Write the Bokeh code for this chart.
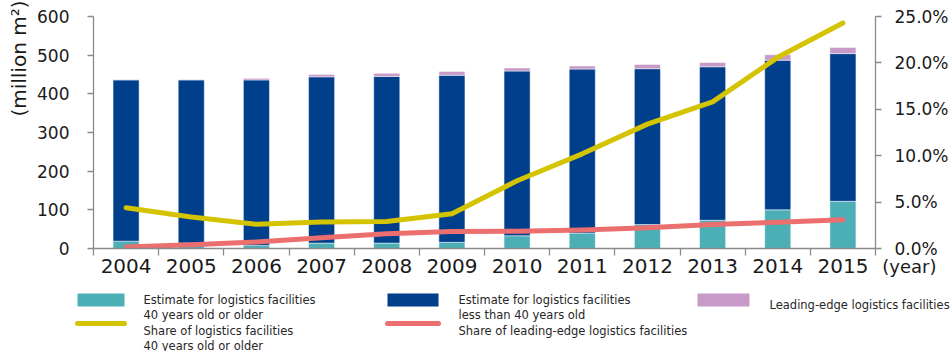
import numpy as np
from bokeh.plotting import figure
from bokeh.models import ColumnDataSource, Range1d, LinearAxis, FixedTicker, PrintfTickFormatter, Title
from bokeh.layouts import column
from bokeh.embed import file_html
from bokeh.resources import INLINE
from bokeh.core.properties import value

# ---------------- data ----------------
years = ["2004", "2005", "2006", "2007", "2008", "2009", "2010", "2011", "2012", "2013", "2014", "2015"]
old40 = [19, 14, 8, 14, 14, 16, 33, 40, 62, 73, 100, 122]          # million m2, 40 years or older
under40 = [417, 422, 428, 430, 431, 432, 426, 424, 403, 397, 387, 382]  # million m2, less than 40 years
leading = [1, 1, 4, 6, 8, 10, 8, 8, 11, 11, 14, 16]                 # million m2, leading-edge
share_old40 = [4.4, 3.4, 2.6, 2.85, 2.9, 3.75, 7.3, 10.2, 13.4, 15.8, 20.6, 24.3]   # %
share_leading = [0.15, 0.4, 0.7, 1.15, 1.58, 1.83, 1.87, 2.0, 2.23, 2.59, 2.84, 3.09]  # %
left_ticks = [0, 100, 200, 300, 400, 500, 600]
right_ticks = [0, 5, 10, 15, 20, 25]
y_title = "(million m²)"
x_title = "(year)"

legend_box_labels = [
    ["Estimate for logistics facilities", "40 years old or older"],
    ["Estimate for logistics facilities", "less than 40 years old"],
    ["Leading-edge logistics facilities"],
]
legend_line_labels = [
    ["Share of logistics facilities", "40 years old or older"],
    ["Share of leading-edge logistics facilities"],
]

C_TEAL = "#4DAFB6"
C_BLUE = "#003F8C"
C_PURPLE = "#C89AC7"
C_YELLOW = "#D4C300"
C_RED = "#EC6F6F"
C_AXIS = "#8A8A8A"
C_TEXT = "#1A1A1A"
FONT = "DejaVu Sans"

# ---------------- main chart ----------------
n = len(years)
xs = (np.arange(n) + 0.5).tolist()
src = ColumnDataSource(dict(x=xs, old40=old40, under40=under40, leading=leading,
                            s_old=share_old40, s_lead=share_leading))

p = figure(width=951, height=282, x_range=Range1d(0, n), y_range=Range1d(0, 600),
           output_backend="svg", toolbar_location=None,
           min_border_left=89, min_border_right=74, min_border_top=16, min_border_bottom=34)
p.outline_line_color = None
p.grid.visible = False
p.background_fill_color = "white"

p.vbar_stack(["old40", "under40", "leading"], x="x", width=0.4, source=src,
             color=[C_TEAL, C_BLUE, C_PURPLE], line_color="white", line_width=0.8, line_alpha=0.6)

p.extra_y_ranges = {"pct": Range1d(0, 25)}
p.line("x", "s_old", source=src, y_range_name="pct", line_color=C_YELLOW, line_width=5,
       line_cap="round", line_join="round")
p.line("x", "s_lead", source=src, y_range_name="pct", line_color=C_RED, line_width=5,
       line_cap="round", line_join="round")

xa = p.xaxis[0]
xa.ticker = FixedTicker(ticks=xs, minor_ticks=list(range(n + 1)))
xa.major_label_overrides = {x: y for x, y in zip(xs, years)}
xa.major_tick_out = 0
xa.major_tick_in = 0
xa.minor_tick_out = 7
xa.minor_tick_in = 0
xa.minor_tick_line_color = C_AXIS
xa.minor_tick_line_width = 1.3
xa.axis_line_color = C_AXIS
xa.axis_line_width = 1.3
xa.major_label_text_font = FONT
xa.major_label_text_font_size = "20px"
xa.major_label_text_color = C_TEXT
xa.major_label_standoff = 3

ya = p.yaxis[0]
ya.ticker = FixedTicker(ticks=left_ticks)
ya.major_tick_out = 6
ya.major_tick_in = 0
ya.minor_tick_out = 0
ya.major_tick_line_color = C_AXIS
ya.major_tick_line_width = 1.3
ya.axis_line_color = C_AXIS
ya.axis_line_width = 1.3
ya.major_label_text_font = FONT
ya.major_label_text_font_size = "17px"
ya.major_label_text_color = C_TEXT
ya.major_label_standoff = 18

ra = LinearAxis(y_range_name="pct", ticker=FixedTicker(ticks=right_ticks),
                formatter=PrintfTickFormatter(format="%.1f%%"))
ra.major_tick_out = 6
ra.major_tick_in = 0
ra.minor_tick_out = 0
ra.major_tick_line_color = C_AXIS
ra.major_tick_line_width = 1.3
ra.axis_line_color = C_AXIS
ra.axis_line_width = 1.3
ra.major_label_text_font = FONT
ra.major_label_text_font_size = "17px"
ra.major_label_text_color = C_TEXT
ra.major_label_standoff = 13
p.add_layout(ra, "right")

# axis titles as side-panel titles (not clipped to the frame)
p.add_layout(Title(text=y_title, align="right", offset=-16, standoff=8,
                   text_font=FONT, text_font_size="20px", text_font_style="normal",
                   text_color=C_TEXT), "left")
p.add_layout(Title(text=x_title, align="right", vertical_align="top", offset=-61, standoff=-40,
                   text_font=FONT, text_font_size="18px", text_font_style="normal",
                   text_color=C_TEXT), "below")

# ---------------- legend ----------------
lg = figure(width=951, height=69, x_range=Range1d(0, 951), y_range=Range1d(351, 282),
            output_backend="svg", toolbar_location=None, min_border=0,
            x_axis_location=None, y_axis_location=None)
lg.outline_line_color = None
lg.grid.visible = False
for fig in (p, lg):
    try:
        fig.frame_align = False
    except Exception:
        pass

box_left = [77, 387, 697]
box_right = [124, 438, 749]
box_text_x = [143, 458, 769]
box_text_y = [[299, 314], [299, 314], [304]]
lg.quad(left=box_left, right=box_right, top=[293] * 3, bottom=[306] * 3,
        color=[C_TEAL, C_BLUE, C_PURPLE], line_color=None)

line_left = [77, 387]
line_right = [124, 438]
line_text_x = [143, 458]
line_text_y = [[330, 345], [330]]
lg.multi_line(xs=[[a, b] for a, b in zip(line_left, line_right)], ys=[[323, 323]] * 2,
              line_color=[C_YELLOW, C_RED], line_width=5, line_cap="round")

tx, ty, tt = [], [], []
for x0, ys_, labs in zip(box_text_x, box_text_y, legend_box_labels):
    for yy, t in zip(ys_, labs):
        tx.append(x0); ty.append(yy); tt.append(t)
for x0, ys_, labs in zip(line_text_x, line_text_y, legend_line_labels):
    for yy, t in zip(ys_, labs):
        tx.append(x0); ty.append(yy); tt.append(t)
lg.text(x=tx, y=ty, text=tt, text_font=value(FONT), text_font_size="11.5px",
        text_baseline="alphabetic", text_align="left", text_color="#262626")

layout = column(p, lg, spacing=0)
open("out.html", "w").write(file_html(layout, INLINE))
